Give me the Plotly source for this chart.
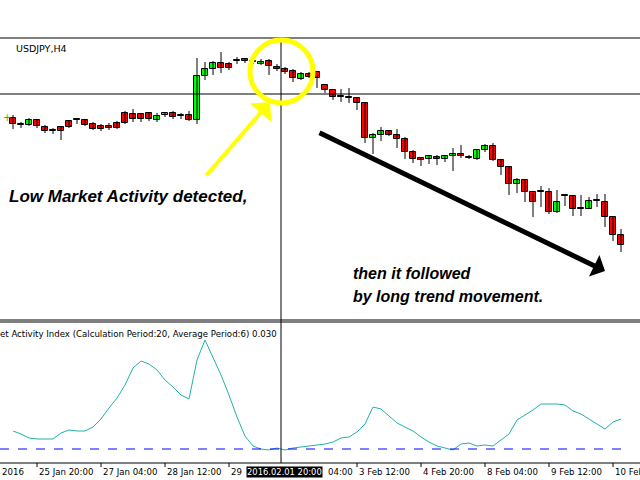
import plotly.graph_objects as go

# Candle OHLC in chart units (price level, higher = up)
opens  = [182,175,175,180,173,169,173,179,180,180,176,174,174,177,187,186,186,187,180,185,187,184,185,180,224,231,237,236,239,241,238,236,239,233,231,229,221,226,228,215,210,203,203,202,197,162,165,169,165,161,148,142,141,143,141,144,146,142,141,150,154,140,133,116,120,108,108,108,88,105,104,91,91,99,98,83,65]
closes = [176,175,180,174,169,169,169,173,180,175,171,171,172,172,177,181,181,181,184,187,183,184,180,224,231,237,232,232,239,239,238,238,234,231,228,222,226,223,222,210,203,203,202,197,162,165,169,165,161,148,141,140,144,141,144,146,144,142,150,154,140,133,116,120,108,98,108,88,98,104,91,91,99,99,83,65,55]
highs  = [185,178,182,181,175,172,173,180,181,181,178,176,177,179,189,191,187,188,187,188,189,187,189,242,238,239,248,238,243,242,242,241,241,236,233,231,228,228,224,212,207,211,212,203,198,167,173,170,171,163,150,143,144,145,145,152,155,145,151,156,157,141,133,122,120,107,114,112,110,106,105,105,103,106,106,83,71]
lows   = [171,172,174,172,167,166,160,172,176,174,170,169,170,171,176,178,178,179,178,183,181,181,179,176,220,225,227,230,236,237,236,235,225,229,226,218,220,222,212,207,200,198,197,190,157,146,159,164,152,141,137,134,136,135,138,129,142,141,140,148,139,125,105,107,98,83,93,86,87,94,84,84,91,93,73,59,48]
# Market Activity Index values (relative to the 0.030 level)
mai = [18,15,11,10,10,10,16,19,18,18,22,30,41,51,64,81,88,85,79,69,62,54,50,89,109,92,74,54,32,13,3,0,-1,1,-1,1,2,3,4,5,7,11,12,17,25,42,40,33,26,22,18,12,7,3,1,-1,5,6,3,4,3,9,15,29,34,39,45,45,45,44,38,35,30,25,20,27,30]
tick_idx = [3,11,19,27,43,51,59,67,75]
tick_labels = ["25 Jan 20:00","27 Jan 04:00","28 Jan 12:00","29","3 Feb 12:00","4 Feb 20:00","8 Feb 04:00","9 Feb 12:00","10 Feb 20:00"]

idx = list(range(len(opens)))
W, H = 628, 463
def px(x): return x / W
def py(y): return (H - y) / H

fig = go.Figure()
wx, wy = [], []
for i, h, l in zip(idx, highs, lows):
    wx += [i, i, None]; wy += [h, l, None]
fig.add_trace(go.Scatter(x=wx, y=wy, mode="lines", line=dict(color="black", width=1),
                         showlegend=False, hoverinfo="skip"))
up = [c >= o for o, c in zip(opens, closes)]
for flag, col in [(True, "#00FF00"), (False, "#FF0000")]:
    xs = [i for i in idx if up[i] == flag]
    base = [min(opens[i], closes[i]) for i in xs]
    hgt = [max(abs(closes[i] - opens[i]), 0.6) for i in xs]
    fig.add_trace(go.Bar(x=xs, y=hgt, base=base, width=0.72, marker=dict(color=col,
                  line=dict(color="black", width=1)), showlegend=False))
fig.add_trace(go.Scatter(x=idx, y=mai, mode="lines", line=dict(color="#20B2AA", width=1),
    showlegend=False, xaxis="x", yaxis="y2"))

xr = [-13/8, (W-13)/8]
fig.update_layout(
    width=640, height=480, margin=dict(l=0, r=12, t=0, b=17),
    paper_bgcolor="white", plot_bgcolor="white", bargap=0,
    xaxis=dict(range=xr, domain=[0,1], anchor="y2", showticklabels=False, showgrid=False,
               zeroline=False),
    yaxis=dict(domain=[py(320), py(38)], range=[300-320, 300-38], showticklabels=False,
               showgrid=False, zeroline=False),
    yaxis2=dict(domain=[0, py(322)], range=[449-463, 449-322], showticklabels=False,
                showgrid=False, zeroline=False),
    font=dict(family="Liberation Sans"),
)
shapes = []
def line(x0,y0,x1,y1,color="black",width=1,dash=None):
    shapes.append(dict(type="line", xref="paper", yref="paper", x0=px(x0), y0=py(y0),
                       x1=px(x1), y1=py(y1), line=dict(color=color, width=width, dash=dash)))
line(0,38,640,38)
line(0,320,640,320)
line(0,322,640,322)
line(0,463,640,463)
line(0,94,640,94)
line(281,38,281,463)
shapes.append(dict(type="line", xref="paper", yref="y2", x0=0, x1=1, y0=0, y1=0,
                   line=dict(color="#0000FF", width=1, dash="dash")))
for t in tick_idx:
    xp = 13 + 8*t
    line(xp,463,xp,467)
shapes.append(dict(type="circle", xref="paper", yref="paper", x0=px(250), x1=px(313),
                   y0=py(103), y1=py(40), line=dict(color="#FFFF00", width=5)))
fig.update_layout(shapes=shapes)

ann = []
def text(x,y,s,size=11,color="black",bold=False,italic=False,anchor="left",bg=None):
    if bold: s = "<b>"+s+"</b>"
    if italic: s = "<i>"+s+"</i>"
    ann.append(dict(xref="paper", yref="paper", x=px(x), y=py(y), text=s, showarrow=False,
                    xanchor=anchor, yanchor="middle", font=dict(size=size, color=color,
                    family="DejaVu Sans" if not bold else "Liberation Sans"),
                    bgcolor=bg, borderpad=0))
text(15,49,"USDJPY,H4",size=9.5)
text(-1,334,"et Activity Index (Calculation Period:20, Average Period:6) 0.030",size=8.6)
text(8,197,"Low Market Activity detected,",size=17,bold=True,italic=True)
text(352,274,"then it followed",size=16,bold=True,italic=True)
text(352,296,"by long trend movement.",size=16,bold=True,italic=True)
text(1,472,"2016",size=8.6)
for t,l in zip(tick_idx,tick_labels):
    text(13+8*t+1,472,l,size=8.6)
text(246,472,"2016.02.01 20:00",size=8.4,color="white",bg="black")
text(327,472,"04:00",size=8.6)
text(2,118,"+",size=10,color="#00CC00")
def arrow(x0,y0,x1,y1,color,width,size):
    ann.append(dict(xref="paper", yref="paper", x=px(x1), y=py(y1), axref="pixel", ayref="pixel",
                    ax=x0-x1, ay=y0-y1, showarrow=True, arrowhead=1, arrowsize=size,
                    arrowwidth=width, arrowcolor=color, text=""))
arrow(205,177,270,102,"#FFFF00",4,1.2)
arrow(318,132,605,271,"black",5,0.8)
fig.update_layout(annotations=ann)
fig.write_html("out.html", config={"displayModeBar": False},
               post_script="document.body.style.margin='0';document.body.style.overflow='hidden';")
